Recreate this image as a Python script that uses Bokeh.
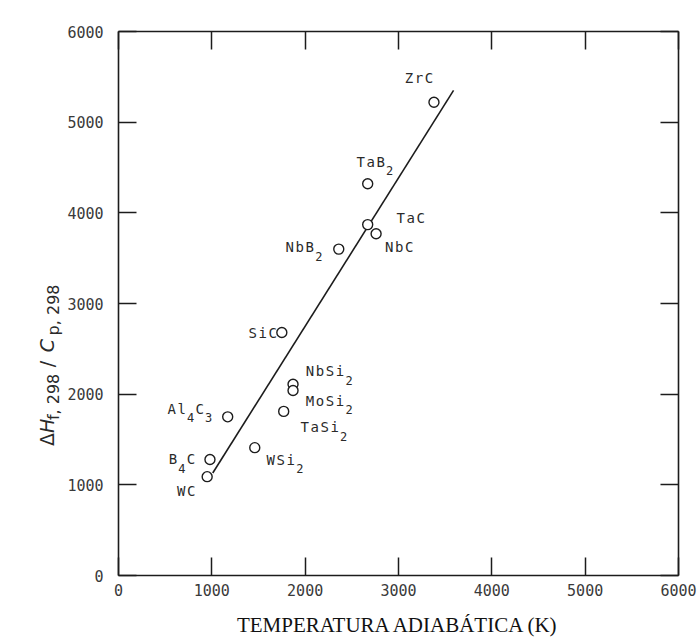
import math
from bokeh.plotting import figure
from bokeh.layouts import row
from bokeh.models import ColumnDataSource, LinearAxis, FixedTicker
from bokeh.core.properties import value
from bokeh.embed import file_html
from bokeh.resources import INLINE

# ---- data ----
names = ["ZrC", "TaB₂", "TaC", "NbC", "NbB₂", "SiC", "NbSi₂", "MoSi₂",
         "TaSi₂", "WSi₂", "Al₄C₃", "B₄C", "WC"]
t_ad = [3380, 2670, 2670, 2760, 2360, 1750, 1870, 1870, 1770, 1460, 1170, 980, 950]
ratio = [5220, 4320, 3870, 3770, 3600, 2680, 2110, 2040, 1810, 1410, 1750, 1280, 1090]
fit_x = [1010, 3590]
fit_y = [1130, 5350]
ticks = [0, 1000, 2000, 3000, 4000, 5000, 6000]
x_title = "TEMPERATURA ADIABÁTICA (K)"
# y title pieces: text, is_subscript, italic
y_title = [("Δ", False, False), ("H", False, True), ("f, 298", True, False),
           ("/", False, False), ("C", False, True), ("p, 298", True, False)]

# label placement (screen px offsets from each point: left edge, middle)
lab_dx = [-30, -12, 28, 8, -54, -34, 12, 12, 16, 11, -61, -42, -31]
lab_dy = [-24, -22, -7, 13, -2, 0, -13, 10, 16, 12, -8, 0, 14]
# y-title piece positions along the axis (px from bottom of the page)
ytitle_pos = [192, 205, 218, 271, 286, 303]

INK = "#1c1c1c"
MONO = "DejaVu Sans Mono"
H = 639
LEFT_W = 64
FRAME_TOP = 31
FRAME_BOTTOM = 577

p = figure(width=698 - LEFT_W, height=H, x_range=(0, 6000), y_range=(0, 6000),
           output_backend="svg", toolbar_location=None,
           min_border_left=118 - LEFT_W, min_border_right=20,
           min_border_top=FRAME_TOP, min_border_bottom=H - FRAME_BOTTOM)
p.grid.visible = False
p.outline_line_color = None
p.background_fill_color = "white"
p.border_fill_color = "white"

def style_axis(ax, show_labels):
    ax.ticker = FixedTicker(ticks=ticks)
    ax.axis_line_color = INK
    ax.axis_line_width = 1.6
    ax.major_tick_line_color = INK
    ax.major_tick_line_width = 1.5
    ax.major_tick_in = 18
    ax.major_tick_out = 0
    ax.minor_tick_line_color = None
    if show_labels:
        ax.major_label_text_font = MONO
        ax.major_label_text_font_size = "15px"
        ax.major_label_text_color = "#3a3a3a"
    else:
        ax.major_label_overrides = {t: "" for t in ticks}
        ax.major_label_standoff = 0

style_axis(p.xaxis[0], True)
p.xaxis[0].major_label_standoff = 8
p.xaxis[0].axis_label = x_title
p.xaxis[0].axis_label_text_font = "Liberation Serif"
p.xaxis[0].axis_label_text_font_size = "21px"
p.xaxis[0].axis_label_text_font_style = "normal"
p.xaxis[0].axis_label_text_color = "#111111"
p.xaxis[0].axis_label_standoff = 14
style_axis(p.yaxis[0], True)
p.yaxis[0].major_label_standoff = 15

right = LinearAxis()
style_axis(right, False)
p.add_layout(right, "right")
top = LinearAxis()
style_axis(top, False)
p.add_layout(top, "above")

# fitted line and points
p.line(fit_x, fit_y, line_color=INK, line_width=1.6)
p.scatter(t_ad, ratio, marker="circle", size=10, fill_color="white",
          line_color=INK, line_width=1.4)

# point labels, character by character (typewriter look, lowered subscripts)
sub_map = {"₀": "0", "₁": "1", "₂": "2", "₃": "3", "₄": "4", "₅": "5"}
rows = {"x": [], "y": [], "t": [], "xo": [], "yo": [], "fs": []}
for name, xv, yv, dx, dy in zip(names, t_ad, ratio, lab_dx, lab_dy):
    cur = dx
    for ch in name:
        rows["x"].append(xv); rows["y"].append(yv)
        if ch in sub_map:
            rows["t"].append(sub_map[ch])
            rows["xo"].append(cur + 4); rows["yo"].append(dy + 9)
            rows["fs"].append("12px")
            cur += 8
        else:
            rows["t"].append(ch)
            rows["xo"].append(cur + 5); rows["yo"].append(dy)
            rows["fs"].append("14px")
            cur += 10
src = ColumnDataSource(rows)
p.text(x="x", y="y", text="t", x_offset="xo", y_offset="yo",
       text_font_size="fs", source=src, text_font=value(MONO),
       text_color="#2a2a2a", text_align="center", text_baseline="middle")

# narrow side figure carrying the rotated y title (with real subscripts);
# its frame is aligned with the main frame by the row layout
lp = figure(width=LEFT_W, height=H, x_range=(0, LEFT_W),
            y_range=(H - FRAME_BOTTOM, H - FRAME_TOP),
            output_backend="svg", toolbar_location=None,
            min_border_left=0, min_border_right=0,
            min_border_top=FRAME_TOP, min_border_bottom=H - FRAME_BOTTOM)
lp.axis.visible = False
lp.grid.visible = False
lp.outline_line_color = None
lp.background_fill_color = "white"
lp.border_fill_color = "white"
ysrc = {"x": [], "y": [], "t": [], "fs": [], "st": []}
for (txt, is_sub, ital), pos in zip(y_title, ytitle_pos):
    ysrc["x"].append(53 if is_sub else 46)
    ysrc["y"].append(pos)
    ysrc["t"].append(txt)
    ysrc["fs"].append("16px" if is_sub else "19px")
    ysrc["st"].append("italic" if ital else "normal")
lp.text(x="x", y="y", text="t", text_font_size="fs", text_font_style="st",
        source=ColumnDataSource(ysrc), angle=math.pi / 2,
        text_font=value("DejaVu Sans"), text_color="#2a2a2a",
        text_align="left", text_baseline="alphabetic")

layout = row(lp, p)
open("out.html", "w").write(file_html(layout, INLINE))
